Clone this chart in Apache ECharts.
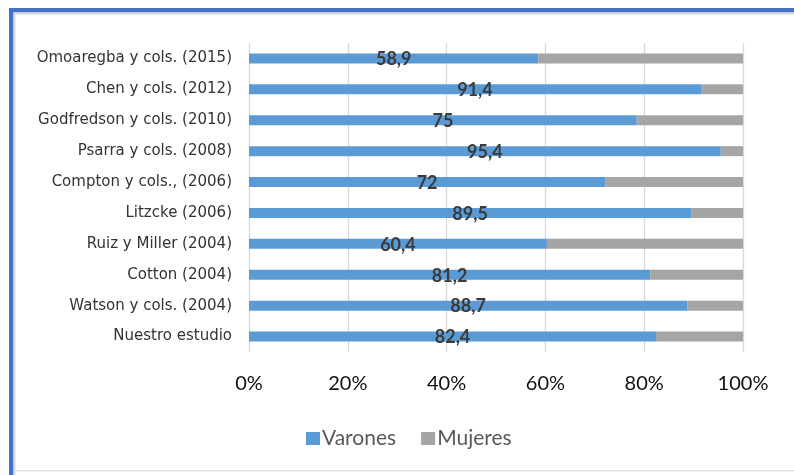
<!DOCTYPE html>
<html><head><meta charset="utf-8">
<script src="https://cdn.jsdelivr.net/npm/echarts@6/dist/echarts.min.js"></script>
<style>html,body{margin:0;padding:0;background:#fff}#c{width:794px;height:475px}</style>
</head><body><div id="c"></div>
<script>
const categories = ["Omoaregba y cols. (2015)","Chen y cols. (2012)","Godfredson y cols. (2010)","Psarra y cols. (2008)","Compton y cols., (2006)","Litzcke (2006)","Ruiz y Miller (2004)","Cotton (2004)","Watson y cols. (2004)","Nuestro estudio"];
const varones = [58.6, 91.5, 78.5, 95.5, 72.1, 89.5, 60.3, 81.2, 88.7, 82.4];
const mujeres = [41.4, 8.5, 21.5, 4.5, 27.9, 10.5, 39.7, 18.8, 11.3, 17.6];
const varonesLabels = ["58,9","91,4","75","95,4","72","89,5","60,4","81,2","88,7","82,4"];
const xTicks = ["0%","20%","40%","60%","80%","100%"];

const chart = echarts.init(document.getElementById('c'), null, {renderer:'canvas'});
chart.setOption({
  backgroundColor:'#fff',
  animation:false,
  graphic:[
    {type:'rect', shape:{x:9,y:8,width:785,height:4.5}, style:{fill:'#4472C4'}},
    {type:'rect', shape:{x:9,y:8,width:4.5,height:467}, style:{fill:'#4472C4'}},
    {type:'rect', shape:{x:13.5,y:12.5,width:781,height:2}, style:{fill:'#D9D9D9'}},
    {type:'rect', shape:{x:13.5,y:12.5,width:2,height:463}, style:{fill:'#D9D9D9'}},
    {type:'rect', shape:{x:13.5,y:470,width:781,height:1.5}, style:{fill:'#E0E0E0'}}
  ],
  grid:{left:249, right:51, top:43, bottom:123},
  legend:{
    left:301, top:423, itemWidth:14, itemHeight:13, itemGap:25,
    icon:'rect',
    textStyle:{fontFamily:'Lato', fontSize:21, color:'#595959', padding:[0,0,0,-3]},
    data:['Varones','Mujeres']
  },
  xAxis:{
    type:'value', min:0, max:100, interval:20,
    axisLine:{show:false}, axisTick:{show:false},
    splitLine:{lineStyle:{color:'#D9D9D9', width:1.3}},
    axisLabel:{formatter:(v)=>xTicks[v/20], fontFamily:'Lato', fontSize:20, color:'#111', margin:22}
  },
  yAxis:{
    type:'category', data:categories, inverse:true,
    axisLine:{show:false}, axisTick:{show:false},
    axisLabel:{fontFamily:'DejaVu Sans', fontSize:15, color:'#333', margin:17}
  },
  series:[
    {name:'Varones', type:'bar', stack:'t', data:varones, barWidth:10,
     itemStyle:{color:'#5B9BD5'},
     label:{show:true, position:'inside', offset:[0,1],
       formatter:(p)=>varonesLabels[p.dataIndex],
       fontFamily:'Lato', fontWeight:'bold', fontSize:18, color:'#3a3a3a'}},
    {name:'Mujeres', type:'bar', stack:'t', data:mujeres, barWidth:10,
     itemStyle:{color:'#A5A5A5'}}
  ]
});
</script></body></html>
